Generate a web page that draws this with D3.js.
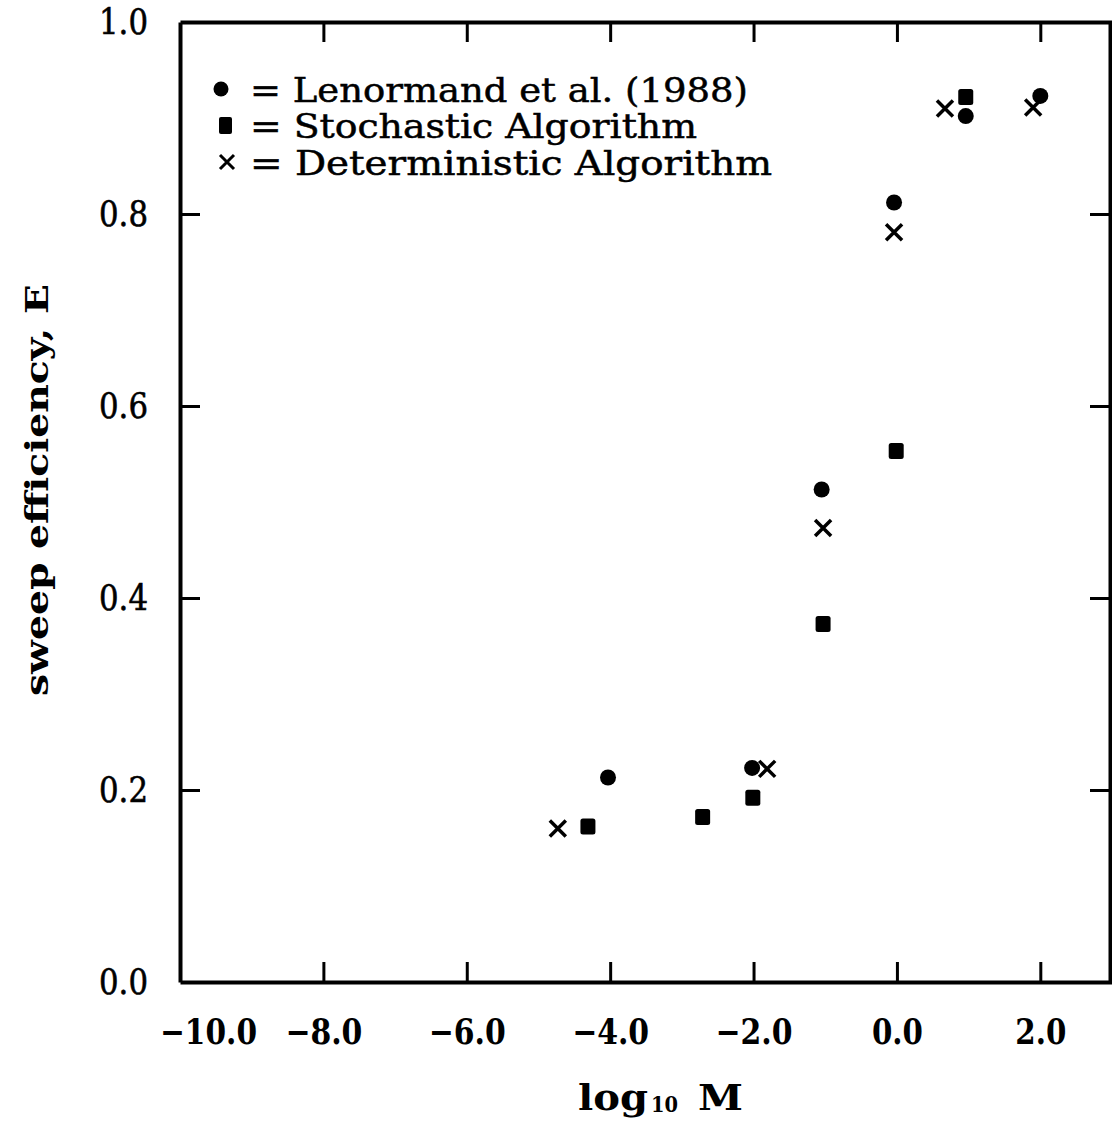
<!DOCTYPE html>
<html>
<head>
<meta charset="utf-8">
<script src="https://cdn.jsdelivr.net/npm/d3@7"></script>
<style>
  html, body { margin: 0; padding: 0; background: #fff; }
  svg { display: block; }
  text { fill: #000; font-family: "DejaVu Serif", "Liberation Serif", serif; }
</style>
</head>
<body>
<svg id="chart" width="1112" height="1126"></svg>
<script>
// Sweep efficiency E against log10 of the mobility ratio M
const lenormandX = [-4.03, -2.02, -1.05, -0.04, 0.96, 2.0];
const lenormandE = [0.213, 0.223, 0.513, 0.812, 0.902, 0.923];

const stochasticX = [-4.31, -2.71, -2.01, -1.03, -0.01, 0.96];
const stochasticE = [0.162, 0.172, 0.192, 0.373, 0.553, 0.922];

const deterministicX = [-4.73, -1.81, -1.03, -0.04, 0.67, 1.90];
const deterministicE = [0.160, 0.222, 0.473, 0.781, 0.910, 0.911];

const xTicks = [-10, -8, -6, -4, -2, 0, 2];
const yTicks = [0.0, 0.2, 0.4, 0.6, 0.8, 1.0];

const legendLabels = ["= Lenormand et al. (1988)", "= Stochastic Algorithm", "= Deterministic Algorithm"];

const svg = d3.select("#chart");

const plotLeft = 180, plotRight = 1110, plotTop = 22, plotBottom = 982;

const x = d3.scaleLinear().domain([-10, 3]).range([plotLeft, 1112]);
const y = d3.scaleLinear().domain([0, 1]).range([plotBottom, plotTop]);

const fmt = d3.format(".1f");

function styleAxis(g) {
  g.select(".domain").attr("stroke", "#000").attr("stroke-width", 4);
  g.selectAll(".tick line").attr("stroke", "#000").attr("stroke-width", 3);
}

// width of a tick label from its characters
function labelWidth(s) {
  let w = 0;
  for (const ch of s) w += ch === "." ? 11 : (ch === "\u2212" ? 26 : 20);
  return w;
}

// bottom axis with labels
const gB = svg.append("g").attr("transform", `translate(0,${plotBottom})`)
  .call(d3.axisBottom(x).tickValues(xTicks).tickFormat(fmt)
    .tickSizeInner(-20).tickSizeOuter(0).tickPadding(36));
styleAxis(gB);
gB.selectAll(".tick text")
  .attr("font-family", "DejaVu Serif")
  .attr("font-weight", "bold")
  .attr("font-size", 36)
  .attr("fill", "#000")
  .attr("textLength", d => labelWidth(fmt(d)))
  .attr("lengthAdjust", "spacingAndGlyphs");
gB.selectAll(".tick").filter(d => d === -10).select("text").attr("x", 28);
gB.selectAll(".tick").filter(d => d === -10).select("line").remove();

// top axis, ticks only
const gT = svg.append("g").attr("transform", `translate(0,${plotTop})`)
  .call(d3.axisTop(x).tickValues(xTicks.filter(d => d > -10)).tickFormat("")
    .tickSizeInner(-20).tickSizeOuter(0));
styleAxis(gT);

// left axis with labels
const gL = svg.append("g").attr("transform", `translate(${plotLeft},0)`)
  .call(d3.axisLeft(y).tickValues(yTicks).tickFormat(fmt)
    .tickSizeInner(-20).tickSizeOuter(0).tickPadding(32));
styleAxis(gL);
gL.selectAll(".tick text")
  .attr("font-family", "DejaVu Serif")
  .attr("font-size", 36)
  .attr("fill", "#000")
  .attr("stroke", "#000").attr("stroke-width", 0.6)
  .attr("textLength", 49)
  .attr("lengthAdjust", "spacingAndGlyphs");
gL.selectAll(".tick").filter(d => d === 0 || d === 1).select("line").remove();

// right axis, ticks only
const gR = svg.append("g").attr("transform", `translate(${plotRight},0)`)
  .call(d3.axisRight(y).tickValues(yTicks.filter(d => d > 0 && d < 1)).tickFormat("")
    .tickSizeInner(-20).tickSizeOuter(0));
styleAxis(gR);

// markers
const circles = lenormandX.map((v, i) => [v, lenormandE[i]]);
const squares = stochasticX.map((v, i) => [v, stochasticE[i]]);
const crosses = deterministicX.map((v, i) => [v, deterministicE[i]]);

svg.append("g").selectAll("circle").data(circles).join("circle")
  .attr("cx", d => x(d[0])).attr("cy", d => y(d[1])).attr("r", 8).attr("fill", "#000");

svg.append("g").selectAll("rect").data(squares).join("rect")
  .attr("x", d => x(d[0]) - 7.5).attr("y", d => y(d[1]) - 8)
  .attr("width", 15).attr("height", 16).attr("rx", 2.5).attr("fill", "#000");

const cr = 8;
const crossPath = d => {
  const cx = x(d[0]), cy = y(d[1]);
  return `M${cx - cr},${cy - cr}L${cx + cr},${cy + cr}M${cx - cr},${cy + cr}L${cx + cr},${cy - cr}`;
};
svg.append("g").selectAll("path").data(crosses).join("path")
  .attr("d", crossPath).attr("stroke", "#000").attr("stroke-width", 3.5).attr("fill", "none");

// legend
const legend = svg.append("g");
const baselines = [102, 138, 175];
const textEnds = [748, 697, 772];
legend.append("circle").attr("cx", 221).attr("cy", 89).attr("r", 7.5).attr("fill", "#000");
legend.append("rect").attr("x", 219).attr("y", 117).attr("width", 13).attr("height", 17).attr("rx", 2).attr("fill", "#000");
legend.append("path")
  .attr("d", "M220,155L234,169M220,169L234,155")
  .attr("stroke", "#000").attr("stroke-width", 3).attr("fill", "none");
legendLabels.forEach((lab, i) => {
  legend.append("text").attr("x", 250).attr("y", baselines[i])
    .attr("font-size", 34)
    .attr("stroke", "#000").attr("stroke-width", 0.5)
    .attr("textLength", textEnds[i] - 250)
    .attr("lengthAdjust", "spacingAndGlyphs").text(lab);
});

// axis titles
svg.append("text")
  .attr("transform", "translate(48,490) rotate(-90)")
  .attr("text-anchor", "middle")
  .attr("font-weight", "bold").attr("font-size", 31)
  .attr("textLength", 412).attr("lengthAdjust", "spacingAndGlyphs")
  .text("sweep efficiency, E");

const xt = svg.append("g").attr("font-weight", "bold");
xt.append("text").attr("x", 578).attr("y", 1110).attr("font-size", 35)
  .attr("textLength", 70).attr("lengthAdjust", "spacingAndGlyphs").text("log");
xt.append("text").attr("x", 651).attr("y", 1112).attr("font-size", 23)
  .attr("textLength", 27).attr("lengthAdjust", "spacingAndGlyphs").text("10");
xt.append("text").attr("x", 698).attr("y", 1110).attr("font-size", 35)
  .attr("textLength", 45).attr("lengthAdjust", "spacingAndGlyphs").text("M");
</script>
</body>
</html>
